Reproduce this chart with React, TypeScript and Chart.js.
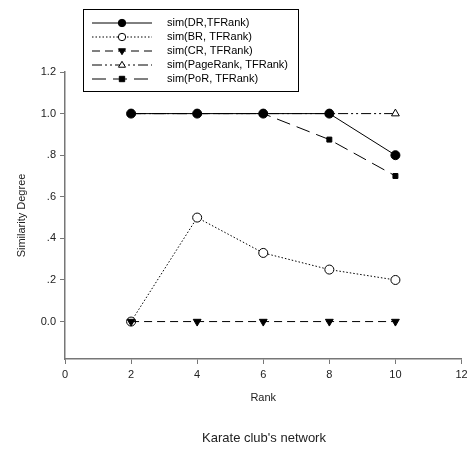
import React, { useEffect, useRef } from "react";
import { Chart, registerables } from "chart.js";

Chart.register(...registerables);

const ranks = [2, 4, 6, 8, 10];
const seriesLabels = [
  "sim(DR,TFRank)",
  "sim(BR, TFRank)",
  "sim(CR, TFRank)",
  "sim(PageRank, TFRank)",
  "sim(PoR, TFRank)",
];
const drValues = [1.0, 1.0, 1.0, 1.0, 0.8];
const brValues = [0.0, 0.5, 0.33, 0.25, 0.2];
const crValues = [0.0, 0.0, 0.0, 0.0, 0.0];
const pageRankValues = [1.0, 1.0, 1.0, 1.0, 1.0];
const porValues = [1.0, 1.0, 1.0, 0.875, 0.7];
const yTickValues = [0, 0.2, 0.4, 0.6, 0.8, 1.0, 1.2];
const yTickLabels = ["0.0", ".2", ".4", ".6", ".8", "1.0", "1.2"];
const xAxisTitle = "Rank";
const yAxisTitle = "Similarity Degree";
const chartTitle = "Karate club's network";

const FONT = "'Liberation Sans', Arial, Helvetica, sans-serif";

type Style = {
  dash: number[];
  pointStyle: string;
  fill: string;
  rotation: number;
  radius: number;
  order: number;
};
const styles: Style[] = [
  { dash: [], pointStyle: "circle", fill: "#000", rotation: 0, radius: 4.5, order: 0 },
  { dash: [1.5, 2], pointStyle: "circle", fill: "#fff", rotation: 0, radius: 4.5, order: 2 },
  { dash: [8, 5], pointStyle: "triangle", fill: "#000", rotation: 180, radius: 4.5, order: 1 },
  { dash: [10, 3, 2, 3, 2, 3], pointStyle: "triangle", fill: "#fff", rotation: 0, radius: 4.5, order: 4 },
  { dash: [14, 7], pointStyle: "rect", fill: "#000", rotation: 0, radius: 3.5, order: 3 },
];

function drawMarker(ctx: CanvasRenderingContext2D, s: Style, x: number, y: number) {
  ctx.save();
  ctx.setLineDash([]);
  ctx.lineWidth = 1;
  ctx.strokeStyle = "#000";
  ctx.fillStyle = s.fill;
  ctx.beginPath();
  const r = s.radius - 0.8;
  if (s.pointStyle === "circle") {
    ctx.arc(x, y, r, 0, Math.PI * 2);
  } else if (s.pointStyle === "rect") {
    ctx.rect(x - r, y - r, 2 * r, 2 * r);
  } else {
    const dir = s.rotation === 180 ? -1 : 1;
    ctx.moveTo(x, y - dir * r);
    ctx.lineTo(x + r * 0.95, y + dir * r * 0.6);
    ctx.lineTo(x - r * 0.95, y + dir * r * 0.6);
    ctx.closePath();
  }
  ctx.fill();
  ctx.stroke();
  ctx.restore();
}

const extrasPlugin = {
  id: "extras",
  afterDraw(chart: any) {
    const ctx: CanvasRenderingContext2D = chart.ctx;
    const area = chart.chartArea;
    ctx.save();
    // legend box
    ctx.strokeStyle = "#000";
    ctx.lineWidth = 1;
    ctx.setLineDash([]);
    ctx.strokeRect(83.5, 9.5, 215, 82);
    ctx.font = `11px ${FONT}`;
    ctx.fillStyle = "#000";
    ctx.textBaseline = "middle";
    ctx.textAlign = "left";
    seriesLabels.forEach((label, i) => {
      const y = 23 + i * 14;
      const s = styles[i];
      ctx.save();
      ctx.strokeStyle = "#000";
      ctx.lineWidth = 1;
      ctx.setLineDash(s.dash);
      ctx.beginPath();
      ctx.moveTo(92, y);
      ctx.lineTo(152, y);
      ctx.stroke();
      ctx.restore();
      drawMarker(ctx, s, 122, y);
      ctx.fillStyle = "#000";
      ctx.fillText(label, 167, y);
    });
    // axis titles
    ctx.fillStyle = "#222";
    ctx.font = `11px ${FONT}`;
    ctx.textAlign = "center";
    ctx.fillText(xAxisTitle, (area.left + area.right) / 2, 398);
    ctx.save();
    ctx.translate(22, (area.top + area.bottom) / 2);
    ctx.rotate(-Math.PI / 2);
    ctx.fillText(yAxisTitle, 0, 0);
    ctx.restore();
    // bottom title
    ctx.font = `13px ${FONT}`;
    ctx.fillText(chartTitle, 264, 438);
    ctx.restore();
  },
};

export default function App() {
  const ref = useRef<HTMLCanvasElement | null>(null);
  useEffect(() => {
    if (!ref.current) return;
    const dataArrays = [drValues, brValues, crValues, pageRankValues, porValues];
    const chart = new Chart(ref.current, {
      type: "line",
      data: {
        datasets: dataArrays.map((vals, i) => ({
          label: seriesLabels[i],
          data: ranks.map((r, j) => ({ x: r, y: vals[j] })),
          order: styles[i].order,
          borderColor: "#000",
          borderWidth: 1,
          borderDash: styles[i].dash,
          pointStyle: styles[i].pointStyle as any,
          pointRotation: styles[i].rotation,
          pointRadius: styles[i].radius,
          pointBackgroundColor: styles[i].fill,
          pointBorderColor: "#000",
          pointBorderWidth: 1,
          fill: false,
          tension: 0,
          clip: false as any,
        })),
      },
      options: {
        responsive: false,
        animation: false,
        layout: { padding: { top: 72, right: 2, left: 0, bottom: 0 } },
        plugins: {
          legend: { display: false },
          title: { display: false },
          tooltip: { enabled: false },
        },
        scales: {
          x: {
            type: "linear",
            min: 0,
            max: 12,
            afterFit: (scale: any) => {
              scale.height = 93;
              scale.paddingRight = 0;
              scale.paddingLeft = 0;
            },
            ticks: {
              stepSize: 2,
              color: "#222",
              font: { family: FONT, size: 11 },
              padding: 4,
              maxRotation: 0,
            },
            grid: { drawOnChartArea: false, tickLength: 5, color: "#777", lineWidth: 1 },
            border: { color: "#777", width: 1.5 },
          },
          y: {
            type: "linear",
            min: -0.18,
            max: 1.2,
            afterFit: (scale: any) => {
              scale.width = 65;
              scale.paddingTop = 0;
              scale.paddingBottom = 0;
            },
            afterBuildTicks: (scale: any) => {
              scale.ticks = yTickValues.map((v) => ({ value: v }));
            },
            ticks: {
              color: "#222",
              font: { family: FONT, size: 11 },
              padding: 4,
              callback: (_v: any, idx: number) => yTickLabels[idx] ?? "",
            },
            grid: { drawOnChartArea: false, tickLength: 5, color: "#777", lineWidth: 1 },
            border: { color: "#777", width: 1.5 },
          },
        },
      },
      plugins: [extrasPlugin],
    });
    return () => chart.destroy();
  }, []);
  return (
    <div style={{ position: "fixed", left: 0, top: 0, width: 467, height: 452, background: "#fff" }}>
      <canvas ref={ref} width={467} height={452} style={{ width: 467, height: 452 }} />
    </div>
  );
}
